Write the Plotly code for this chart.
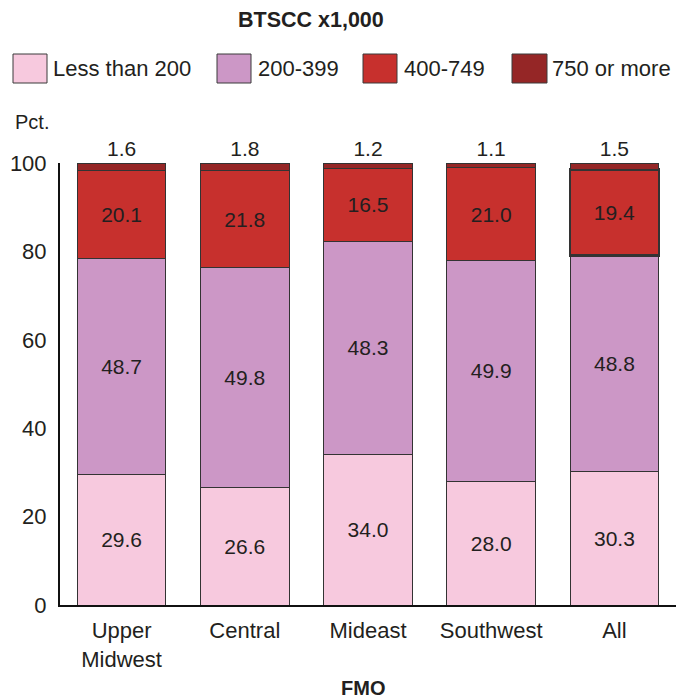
import plotly.graph_objects as go

# FMO regions and BTSCC share (percent of herds) per size class
regions = ["Upper<br>Midwest", "Central", "Mideast", "Southwest", "All"]
series_names = ["Less than 200", "200-399", "400-749", "750 or more"]
less_than_200 = [29.6, 26.6, 34.0, 28.0, 30.3]
from_200_to_399 = [48.7, 49.8, 48.3, 49.9, 48.8]
from_400_to_749 = [20.1, 21.8, 16.5, 21.0, 19.4]
over_750 = [1.6, 1.8, 1.2, 1.1, 1.5]
y_ticks = [0, 20, 40, 60, 80, 100]

colors = ["#f7c9de", "#cc97c6", "#c7302d", "#952626"]
values = [less_than_200, from_200_to_399, from_400_to_749, over_750]

W, H = 676, 700
L, R, T, B = 60, 0, 163, 95
FONT = "Liberation Sans, Arial, sans-serif"
TXT = "#231f20"
FS = 21
FS_AX = 22

fig = go.Figure()
for i, (name, vals, col) in enumerate(zip(series_names, values, colors)):
    top = i == len(series_names) - 1
    line_w = [2.5 if (i == 2 and k == len(regions) - 1) else 1 for k in range(len(regions))]
    fig.add_trace(go.Bar(
        x=regions, y=vals, name=name,
        marker=dict(color=col, line=dict(color="#333333", width=line_w)),
        width=0.72,
        text=[f"{v:.1f}" for v in vals],
        textposition="outside" if top else "inside",
        insidetextanchor="middle",
        textfont=dict(family=FONT, size=FS, color=TXT),
        cliponaxis=False,
        showlegend=False,
        hoverinfo="skip",
    ))


def px_x(px):
    return (px - L) / (W - L - R)


def px_y(py):
    return (H - B - py) / (H - T - B)


shapes = []
annotations = []
# custom legend row: (box left, box right, label left)
legend_pos = [(13, 47, 51), (217, 251, 256), (363, 397, 402), (512, 547, 550)]
for (x0, x1, tx), name, col in zip(legend_pos, series_names, colors):
    shapes.append(dict(type="rect", xref="paper", yref="paper",
                       x0=px_x(x0), x1=px_x(x1), y0=px_y(83), y1=px_y(54),
                       fillcolor=col, line=dict(color="#3a3a3a", width=1)))
    annotations.append(dict(xref="paper", yref="paper", x=px_x(tx), y=px_y(68.5),
                            xanchor="left", yanchor="middle", showarrow=False,
                            text=name, font=dict(family=FONT, size=22, color=TXT)))

annotations.append(dict(xref="paper", yref="paper", x=px_x(311), y=px_y(19.5),
                        xanchor="center", yanchor="middle", showarrow=False,
                        text="<b>BTSCC x1,000</b>", font=dict(family=FONT, size=21.5, color=TXT)))
annotations.append(dict(xref="paper", yref="paper", x=px_x(13), y=px_y(122),
                        xanchor="left", yanchor="middle", showarrow=False,
                        text="Pct.", font=dict(family=FONT, size=20, color=TXT)))
annotations.append(dict(xref="paper", yref="paper", x=px_x(363), y=px_y(688),
                        xanchor="center", yanchor="middle", showarrow=False,
                        text="<b>FMO</b>", font=dict(family=FONT, size=20, color=TXT)))

fig.update_layout(
    width=W, height=H,
    margin=dict(l=L, r=R, t=T, b=B),
    barmode="stack",
    bargap=0.28,
    plot_bgcolor="white", paper_bgcolor="white",
    font=dict(family=FONT, size=FS, color=TXT),
    shapes=shapes, annotations=annotations,
    uniformtext=dict(minsize=FS, mode="show"),
)
fig.update_xaxes(range=[-0.5, 4.5], showline=True, linecolor="#111111", linewidth=2,
                 showgrid=False, ticks="", ticklabelstandoff=5,
                 tickfont=dict(family=FONT, size=FS_AX, color=TXT))
fig.update_yaxes(range=[0, 100], tickvals=y_ticks, showline=True, linecolor="#111111",
                 linewidth=2, showgrid=False, zeroline=False, ticks="",
                 ticklabelstandoff=7, tickfont=dict(family=FONT, size=FS_AX, color=TXT))

fig.write_html("out.html")
